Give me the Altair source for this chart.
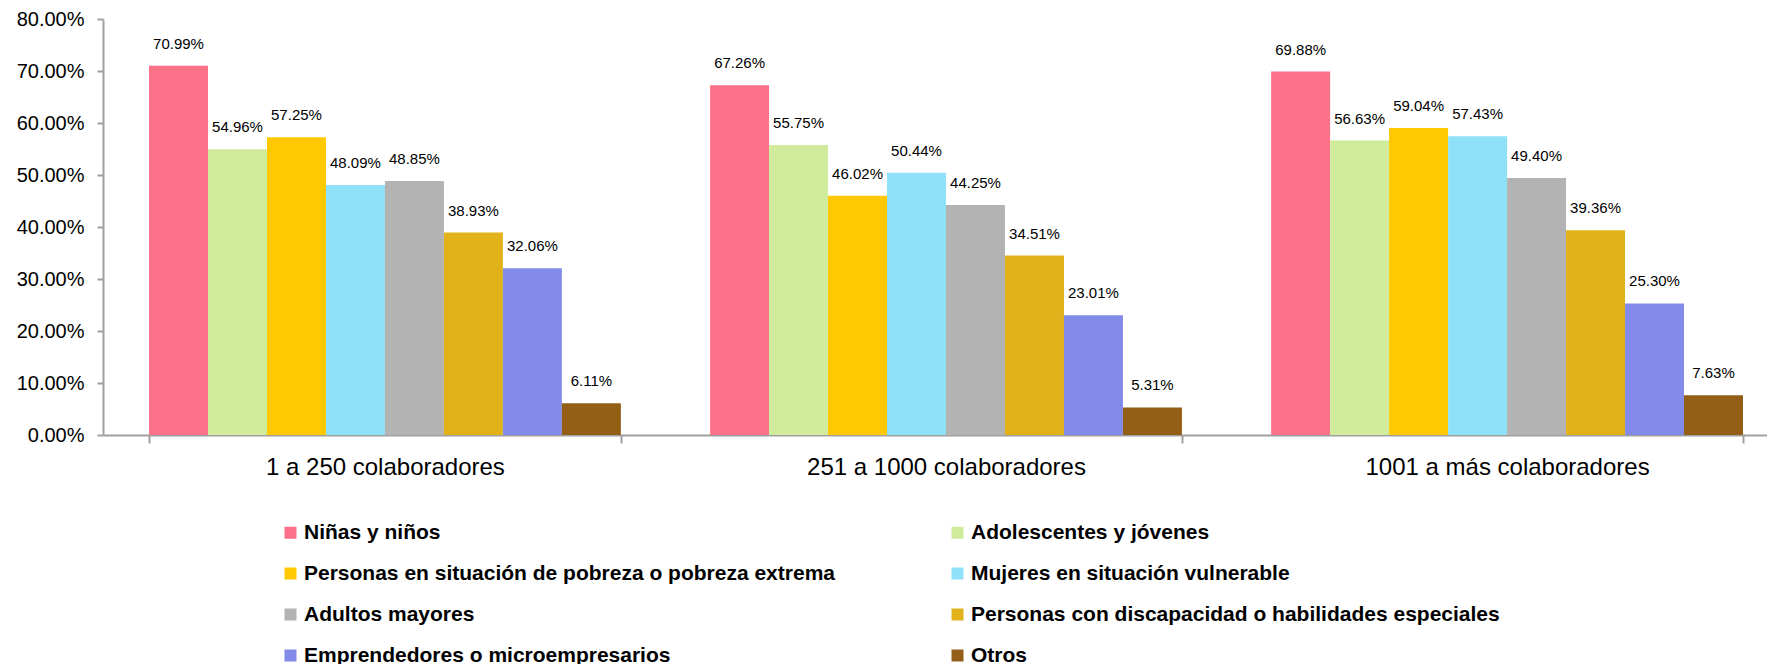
import altair as alt
import pandas as pd

groups = ["1 a 250 colaboradores", "251 a 1000 colaboradores", "1001 a más colaboradores"]
categories = [
    "Niñas y niños",
    "Adolescentes y jóvenes",
    "Personas en situación de pobreza o pobreza extrema",
    "Mujeres en situación vulnerable",
    "Adultos mayores",
    "Personas con discapacidad o habilidades especiales",
    "Emprendedores o microempresarios",
    "Otros",
]
vals_1_250 = [70.99, 54.96, 57.25, 48.09, 48.85, 38.93, 32.06, 6.11]
vals_251_1000 = [67.26, 55.75, 46.02, 50.44, 44.25, 34.51, 23.01, 5.31]
vals_1001_mas = [69.88, 56.63, 59.04, 57.43, 49.40, 39.36, 25.30, 7.63]
colors = ["#FB7189", "#D0EB9C", "#FFC800", "#8EE1F8", "#B3B3B3", "#E2B21A", "#838BE9", "#935F16"]

# legend fills column by column: reorder so it reads row by row as in the reference
legend_order = [0, 2, 4, 6, 1, 3, 5, 7]
legend_domain = [categories[i] for i in legend_order]
legend_range = [colors[i] for i in legend_order]

rows = []
for g, vals in zip(groups, [vals_1_250, vals_251_1000, vals_1001_mas]):
    for c, v in zip(categories, vals):
        rows.append({"grupo": g, "categoria": c, "valor": v / 100})
df = pd.DataFrame(rows)

x_enc = alt.X("grupo:N", sort=groups, title=None,
              scale=alt.Scale(paddingInner=0.159, paddingOuter=0.082, range=[0, 1686]),
              axis=alt.Axis(labelAngle=0, labelFontSize=24, labelColor="#000000",
                            labelFont="Liberation Sans", labelPadding=12, labelLimit=1000,
                            tickBand="extent", tickSize=8, tickColor="#A0A0A0",
                            tickWidth=2, domainColor="#A0A0A0", domainWidth=2))
xo_enc = alt.XOffset("categoria:N", sort=categories,
                     scale=alt.Scale(paddingInner=0, paddingOuter=0))
y_enc = alt.Y("valor:Q", title=None,
              scale=alt.Scale(domain=[0, 0.8], nice=False),
              axis=alt.Axis(format=".2%", values=[0, 0.1, 0.2, 0.3, 0.4, 0.5, 0.6, 0.7, 0.8],
                            grid=False, labelFontSize=20, labelColor="#000000",
                            labelFont="Liberation Sans", labelPadding=13,
                            tickSize=6, tickColor="#A0A0A0", tickWidth=2,
                            domainColor="#A0A0A0", domainWidth=2))

bars = alt.Chart(df).mark_bar().encode(
    x=x_enc,
    xOffset=xo_enc,
    y=y_enc,
    color=alt.Color("categoria:N", sort=legend_domain,
                    scale=alt.Scale(domain=legend_domain, range=legend_range),
                    legend=alt.Legend(orient="none", legendX=177, legendY=503,
                                      columns=2, columnPadding=112, rowPadding=19,
                                      symbolType="square", symbolSize=144,
                                      symbolStrokeWidth=0, labelFontSize=21,
                                      labelFont="Liberation Sans",
                                      labelFontWeight="bold", labelColor="#000000",
                                      labelLimit=1000, labelOffset=3, padding=0,
                                      title=None)),
)

labels = alt.Chart(df).mark_text(dy=-22, baseline="middle", align="center",
                                 fontSize=15, font="Liberation Sans", color="#000000").encode(
    x=alt.X("grupo:N", sort=groups),
    xOffset=alt.XOffset("categoria:N", sort=categories),
    y=alt.Y("valor:Q"),
    text=alt.Text("valor:Q", format=".2%"),
)

chart = alt.layer(bars, labels).properties(
    width=1664, height=416,
    padding={"left": 95, "top": 11, "right": 0, "bottom": 229},
    autosize=alt.AutoSizeParams(type="none"),
).configure_view(stroke=None)

chart.save("out.html", embed_options={"renderer": "svg", "actions": False})
